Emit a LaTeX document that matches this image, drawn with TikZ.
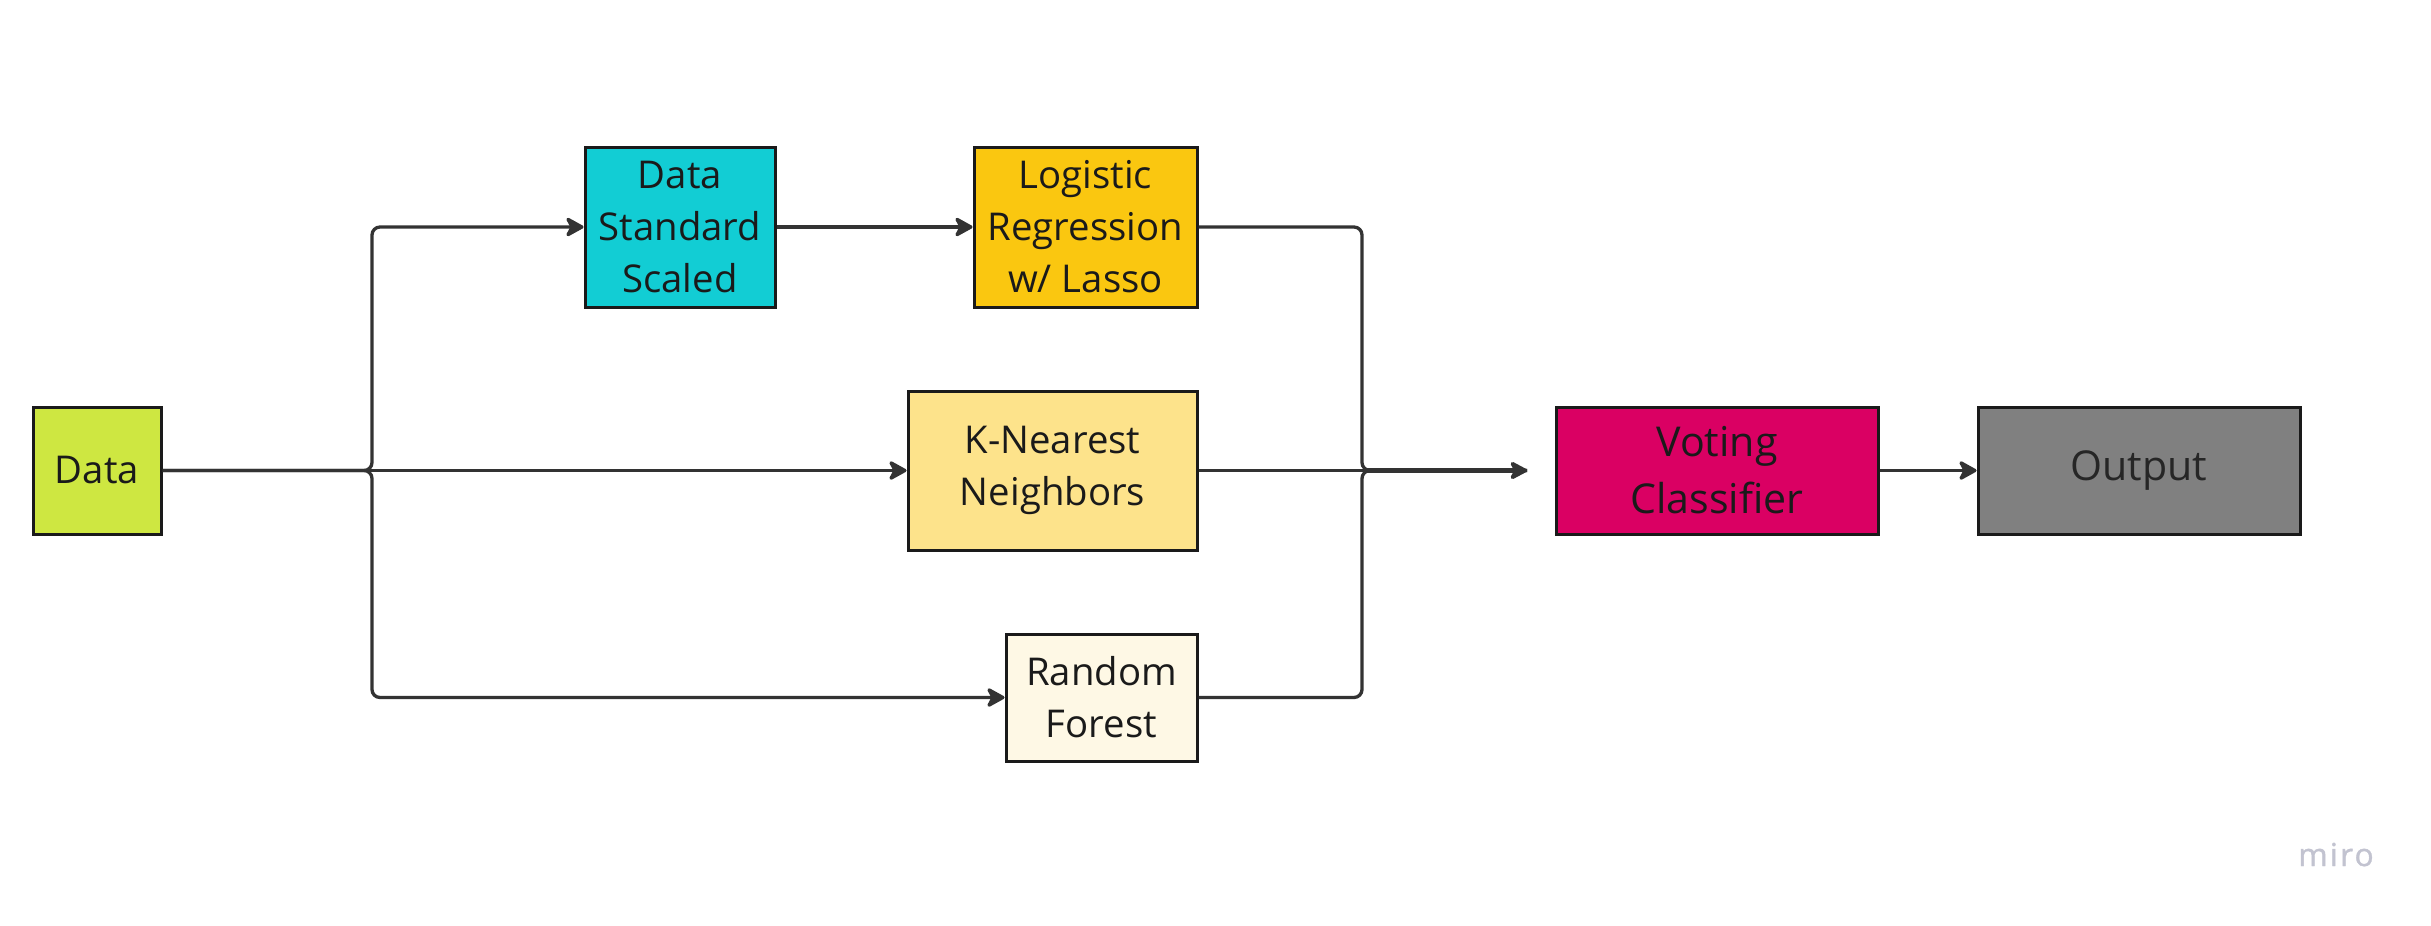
\documentclass[tikz,border=0pt]{standalone}
\usepackage{fontspec}
\setmainfont{Open Sans}
\newfontfamily\mirofont[LetterSpace=7,FakeBold=1.2]{Open Sans}
\usetikzlibrary{arrows.meta}
\definecolor{cdata}{HTML}{CEE741}
\definecolor{cdss}{HTML}{12CDD4}
\definecolor{clog}{HTML}{FAC710}
\definecolor{cknn}{HTML}{FDE38B}
\definecolor{crf}{HTML}{FEF8E5}
\definecolor{cvote}{HTML}{DA0063}
\definecolor{cout}{HTML}{808080}
\definecolor{boxline}{HTML}{1A1A1A}
\definecolor{lc}{HTML}{333333}
\definecolor{txt}{HTML}{1A1A1A}
\definecolor{cmiro}{HTML}{C2C3D0}
\begin{document}
\begin{tikzpicture}[x=0.1mm,y=-0.1mm,
  box/.style={draw=boxline, line width=0.3mm, inner sep=0pt, align=center, text=txt,
    font=\fontsize{10.9pt}{14.8pt}\selectfont},
  bigbox/.style={box, font=\fontsize{11.7pt}{16.2pt}\selectfont},
  conn/.style={draw=lc, line width=0.33mm, rounded corners=0.8mm},
  arr/.style={-{Stealth[round,length=2.1mm,width=2.3mm,inset=0.6mm]}},
  thickarr/.style={draw=lc, line width=0.5mm, -{Stealth[round,length=2.1mm,width=2.2mm,inset=0.6mm]}}
]
\useasboundingbox (0,0) rectangle (2431,925);
\fill[white] (0,0) rectangle (2431,925);

\node[box, fill=cdata, minimum width=12.8mm, minimum height=12.7mm] (data) at (97,470.5) {Data};
\node[box, fill=cdss, minimum width=19mm, minimum height=16mm] (dss) at (680,227) {Data\\Standard\\Scaled};
\node[box, fill=clog, minimum width=22.3mm, minimum height=16mm] (log) at (1085.5,227) {Logistic\\Regression\\w/ Lasso};
\node[box, fill=cknn, minimum width=28.9mm, minimum height=15.9mm] (knn) at (1052.5,470.5) {K-Nearest\\Neighbors};
\node[box, fill=crf, minimum width=19.1mm, minimum height=12.7mm] (rf) at (1101.5,697.5) {Random\\Forest};
\node[bigbox, fill=cvote, minimum width=32.2mm, minimum height=12.7mm] (vote) at (1717,470.5) {Voting\\Classifier};
\node[bigbox, fill=cout, minimum width=32.2mm, minimum height=12.7mm, text=black!85] (out) at (2139,470.5) {Output};

\coordinate (sp) at (372,470.5);
\coordinate (mg) at (1362,470.5);
\coordinate (vin) at (1527,470.5);

\draw[conn, arr] (data.east) -- (sp) |- (dss.west);
\draw[conn, arr] (data.east) -- (knn.west);
\draw[conn, arr] (data.east) -- (sp) |- (rf.west);
\draw[conn, arr] (dss.east) -- (log.west);

\draw[conn] (log.east) -| (mg) -- (vin);
\draw[conn] (knn.east) -- (vin);
\draw[conn] (rf.east) -| (mg) -- (vin);
\draw[thickarr] ([xshift=0.4mm]mg) -- (vin);

\draw[conn, arr] (vote.east) -- (out.west);

\node[text=cmiro, font=\mirofont\fontsize{9pt}{10pt}\selectfont, anchor=base] (miro) at (2336,866) {miro};
\end{tikzpicture}
\end{document}
